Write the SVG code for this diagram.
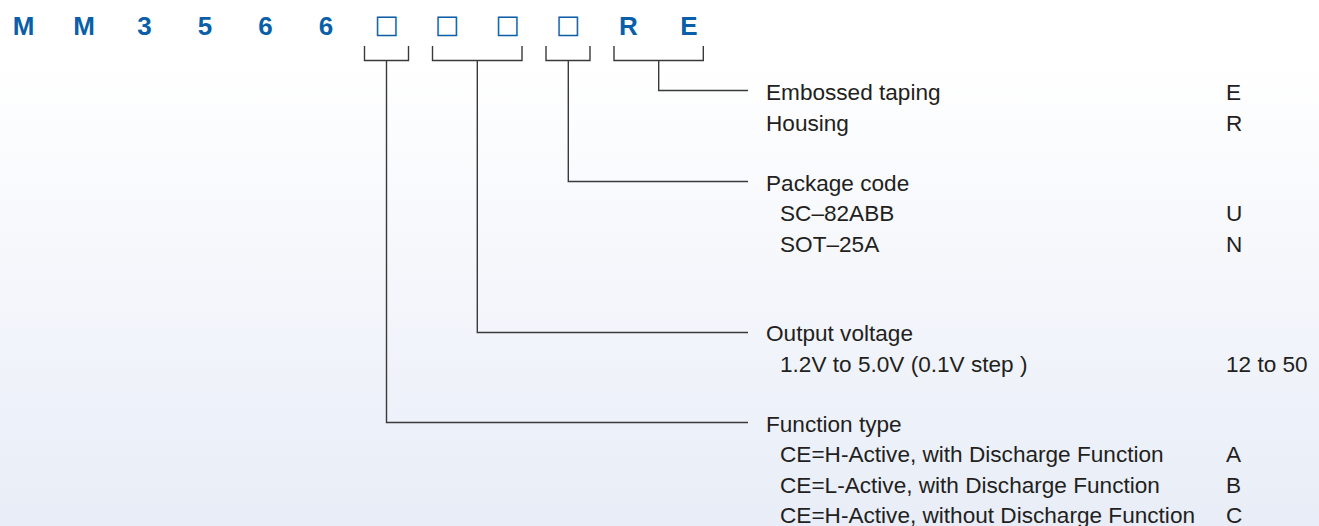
<svg xmlns="http://www.w3.org/2000/svg" width="1319" height="526" viewBox="0 0 1319 526">
<defs>
<linearGradient id="bg" x1="0" y1="0" x2="0" y2="1">
<stop offset="0" stop-color="#ffffff"/>
<stop offset="0.12" stop-color="#ffffff"/>
<stop offset="1" stop-color="#e8edf7"/>
</linearGradient>
<style>
.code{font-family:"Liberation Sans",Arial,sans-serif;font-weight:bold;font-size:26px;fill:#0b5fa8;text-anchor:middle}
.box{font-family:"DejaVu Sans",sans-serif;font-size:26px;fill:#0b5fa8;text-anchor:middle}
.lbl{font-family:"Liberation Sans",Arial,sans-serif;font-size:22.6px;fill:#231f20}
.conn{fill:none;stroke:#3a3a3a;stroke-width:1.4}
</style>
</defs>
<rect x="0" y="0" width="1319" height="526" fill="url(#bg)"/>
<g id="code">
<text class="code" x="23.5" y="35">M</text>
<text class="code" x="84" y="35">M</text>
<text class="code" x="144.5" y="35">3</text>
<text class="code" x="205" y="35">5</text>
<text class="code" x="265.5" y="35">6</text>
<text class="code" x="326" y="35">6</text>
<text class="box" x="386.5" y="33">□</text>
<text class="box" x="447" y="33">□</text>
<text class="box" x="507.5" y="33">□</text>
<text class="box" x="568" y="33">□</text>
<text class="code" x="628.5" y="35">R</text>
<text class="code" x="689" y="35">E</text>
</g>
<g id="connectors">
<path class="conn" d="M364.5,46 V60.5 H408.5 V46 M386.5,60.5 V422.5 H748"/>
<path class="conn" d="M432.5,46 V60.5 H522 V46 M477.3,60.5 V332.5 H748"/>
<path class="conn" d="M546,46 V60.5 H590 V46 M568.3,60.5 V181.5 H748"/>
<path class="conn" d="M614,46 V60.5 H703.3 V46 M658.7,60.5 V90.5 H748"/>
</g>
<g id="node-taping">
<text class="lbl" x="766" y="100">Embossed taping</text>
<text class="lbl" x="1226" y="100">E</text>
<text class="lbl" x="766" y="130.5">Housing</text>
<text class="lbl" x="1226" y="130.5">R</text>
</g>
<g id="node-package">
<text class="lbl" x="766" y="190.5">Package code</text>
<text class="lbl" x="780" y="221">SC–82ABB</text>
<text class="lbl" x="1226" y="221">U</text>
<text class="lbl" x="780" y="251.5">SOT–25A</text>
<text class="lbl" x="1226" y="251.5">N</text>
</g>
<g id="node-voltage">
<text class="lbl" x="766" y="341">Output voltage</text>
<text class="lbl" x="780" y="371.5">1.2V to 5.0V (0.1V step )</text>
<text class="lbl" x="1226" y="371.5">12 to 50</text>
</g>
<g id="node-function">
<text class="lbl" x="766" y="431.5">Function type</text>
<text class="lbl" x="780" y="462">CE=H-Active, with Discharge Function</text>
<text class="lbl" x="1226" y="462">A</text>
<text class="lbl" x="780" y="492.5">CE=L-Active, with Discharge Function</text>
<text class="lbl" x="1226" y="492.5">B</text>
<text class="lbl" x="780" y="523">CE=H-Active, without Discharge Function</text>
<text class="lbl" x="1226" y="523">C</text>
</g>
</svg>
